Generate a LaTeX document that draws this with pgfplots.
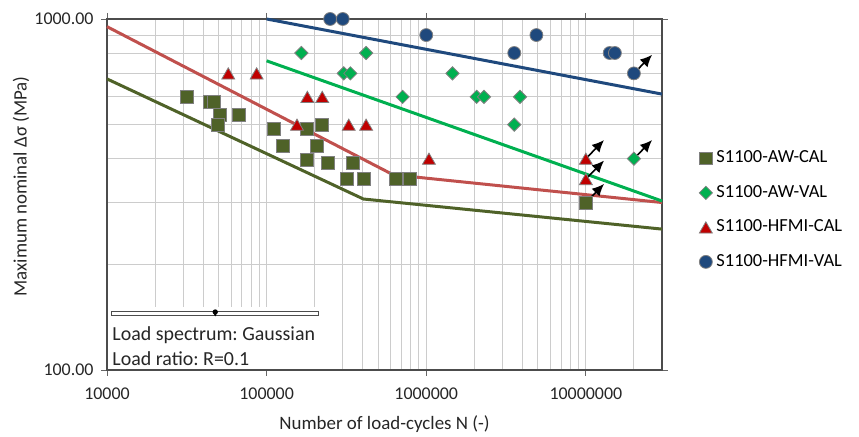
\documentclass[border=0pt]{standalone}
\usepackage{pgfplots}
\pgfplotsset{compat=1.18}
\usepackage{fontspec}
\setmainfont{Carlito}
\frenchspacing
\usetikzlibrary{arrows.meta}
\definecolor{awcal}{HTML}{4F6228}
\definecolor{awval}{HTML}{00B050}
\definecolor{hfcal}{HTML}{C00000}
\definecolor{hfline}{HTML}{C0504D}
\definecolor{hfval}{HTML}{1F497D}
\definecolor{gridc}{HTML}{CCCCCC}
\definecolor{mkborder}{HTML}{808080}
\begin{document}
\begin{tikzpicture}
\path[use as bounding box] (-107bp,-67bp) rectangle (752bp,370bp);
\begin{axis}[
  xmode=log, ymode=log,
  scale only axis, width=555bp, height=351bp,
  xmin=1e4, xmax=3e7, ymin=100, ymax=1000,
  xtick={1e4,1e5,1e6,1e7},
  xticklabels={10000,100000,1000000,10000000},
  ytick={100,1000},
  yticklabels={100.00,1000.00},
  minor xtick={2e4,3e4,4e4,5e4,6e4,7e4,8e4,9e4,2e5,3e5,4e5,5e5,6e5,7e5,8e5,9e5,2e6,3e6,4e6,5e6,6e6,7e6,8e6,9e6,2e7},
  minor ytick={200,300,400,500,600,700,800,900},
  grid=both,
  major grid style={gridc, line width=0.9bp},
  minor grid style={gridc, line width=0.9bp},
  tick align=outside, major tick length=6bp, minor tick length=0pt,
  tick style={color=black!60, line width=0.8bp},
  axis line style={color=black!70, line width=1.2bp},
  /pgf/number format/assume math mode=true,
  tick label style={font=\fontsize{18}{20}\selectfont, color=black!85},
  xticklabel style={yshift=-8bp},
  yticklabel style={xshift=-4bp},
  xlabel={Number of load-cycles N (-)},
  ylabel={Maximum nominal Δσ (MPa)},
  label style={font=\fontsize{19}{22}\selectfont, color=black!85},
  xlabel style={at={(axis description cs:0.5,-0.154)}, anchor=center},
  ylabel style={at={(axis description cs:-0.155,0.523)}, anchor=center},
  clip=false,
  legend cell align=left,
  legend image code/.code={\draw[#1] plot coordinates {(0bp,0bp)};},
  legend style={at={(axis description cs:1.0667,0.6248)}, anchor=north west,
    draw=none, fill=none, inner sep=0pt, row sep=19.5bp, column sep=4bp,
    font=\fontsize{18.5}{20}\selectfont,
    nodes={inner sep=0pt, text height=12bp, text depth=3bp}},
]
% annotation box
\fill[white] ([xshift=0.8bp,yshift=0.8bp]rel axis cs:0,0) rectangle (rel axis cs:0.38,0.179);
\draw[black!70, fill=white, line width=0.6bp] (rel axis cs:0.0085,0.157) rectangle (rel axis cs:0.38,0.168);
\fill[black] (rel axis cs:0.195,0.1655) circle (2.6bp);
\fill[black] ([xshift=-2.6bp]rel axis cs:0.195,0.1655) -- ([xshift=2.6bp]rel axis cs:0.195,0.1655) -- ([yshift=-4.5bp]rel axis cs:0.195,0.1655) -- cycle;
\node[anchor=base west, inner sep=0pt, font=\fontsize{20}{24}\selectfont, color=black!85] at (rel axis cs:0.0095,0.084) {Load spectrum: Gaussian};
\node[anchor=base west, inner sep=0pt, font=\fontsize{20}{24}\selectfont, color=black!85] at (rel axis cs:0.0095,0.0142) {Load ratio: R=0.1};

% S-N lines
\addplot[forget plot, color=awcal, line width=3bp] coordinates {(1e4,675) (4.04e5,307) (3e7,252)};
\addplot[forget plot, color=hfline, line width=3bp] coordinates {(1e4,951) (6.2e5,360) (3e7,300)};
\addplot[forget plot, color=awval, line width=3bp] coordinates {(1e5,760) (3e7,303)};
\addplot[forget plot, color=hfval, line width=3bp] coordinates {(1e5,1000) (3e7,611)};

% data
\addplot[only marks, mark=square*, mark size=6.5pt, mark options={fill=awcal, draw=mkborder, line width=0.8bp}] coordinates {
(31500,600) (44000,580) (47000,580) (51000,533) (49500,500) (67000,533)
(111000,485) (127000,435) (180000,485) (221000,500) (207000,435)
(180000,396) (242000,390) (347000,390) (320000,350) (405000,350)
(650000,350) (785000,350) (1e7,300)};
\addlegendentry{S1100-AW-CAL}
\addplot[only marks, mark=square*, mark size=4.7pt, mark options={rotate=45, fill=awval, draw=mkborder, line width=0.8bp}] coordinates {
(165000,800) (420000,800) (304000,700) (335000,700) (711000,600)
(1.46e6,700) (2.07e6,600) (2.30e6,600) (3.56e6,500) (3.87e6,600) (2e7,400)};
\addlegendentry{S1100-AW-VAL}
\addplot[only marks, mark=triangle*, mark size=7.5pt, mark options={fill=hfcal, draw=mkborder, line width=0.8bp, yshift=-1.9bp}] coordinates {
(57500,700) (86600,700) (180000,600) (223000,600) (155000,500)
(327000,500) (420000,500) (1.04e6,400) (1e7,400) (1e7,350)};
\addlegendentry{S1100-HFMI-CAL}
\addplot[only marks, mark=*, mark size=6.5pt, mark options={fill=hfval, draw=mkborder, line width=0.8bp}] coordinates {
(250000,1000) (300000,1000) (1e6,900) (4.9e6,900) (3.56e6,800)
(1.41e7,800) (1.52e7,800) (2e7,700)};
\addlegendentry{S1100-HFMI-VAL}

% run-out arrows
\draw[-{Latex[length=12bp,width=11bp]}, line width=1.6bp] (axis cs:1e7,300) -- (axis cs:1.3e7,339);
\draw[-{Latex[length=12bp,width=11bp]}, line width=1.6bp] (axis cs:1e7,350) -- (axis cs:1.3e7,395);
\draw[-{Latex[length=12bp,width=11bp]}, line width=1.6bp] (axis cs:1e7,400) -- (axis cs:1.3e7,452);
\draw[-{Latex[length=12bp,width=11bp]}, line width=1.6bp] (axis cs:2e7,400) -- (axis cs:2.6e7,452);
\draw[-{Latex[length=12bp,width=11bp]}, line width=1.6bp] (axis cs:2e7,700) -- (axis cs:2.6e7,791);
\end{axis}
\end{tikzpicture}
\end{document}
